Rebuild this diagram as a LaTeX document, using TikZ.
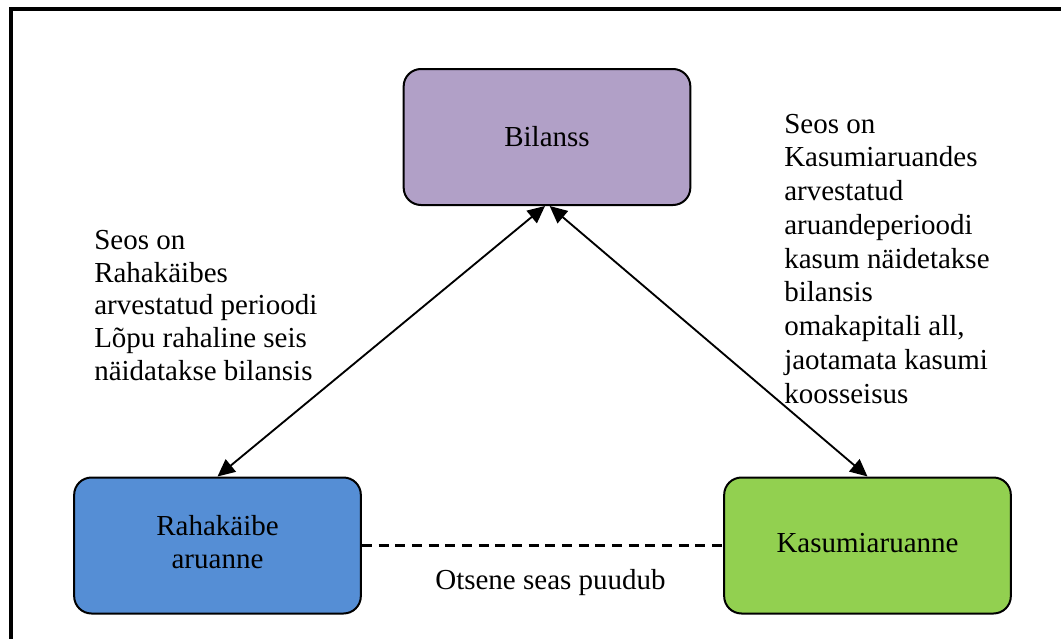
\documentclass[tikz,border=0pt]{standalone}
\usepackage{fontspec}
\setmainfont{Liberation Serif}
\usetikzlibrary{arrows.meta}
\definecolor{bilcol}{HTML}{B1A0C7}
\definecolor{rahcol}{HTML}{558ED5}
\definecolor{kascol}{HTML}{92D050}
\tikzset{
  box/.style={draw=black, line width=1.5pt, rounded corners=13pt, minimum width=215pt, minimum height=102pt, align=center, inner sep=0pt},
  txt/.style={font=\rmfamily\fontsize{21.75pt}{24.75pt}\selectfont},
  note/.style={align=left, inner sep=0pt, anchor=base west},
  link/.style={line width=1.4pt, {Triangle[length=13pt,width=12pt]}-{Triangle[length=13pt,width=12pt]}},
  nolink/.style={line width=1.6pt, dash pattern=on 7.5pt off 5pt},
  frame/.style={line width=2.4pt, draw=black}
}
\begin{document}
\begin{tikzpicture}[x=0.75pt, y=-0.75pt]
\path[use as bounding box, clip] (0,0) rectangle (1061,639);
\draw[frame] (11,9) rectangle (1300,800);
\node[box, fill=bilcol, txt] (bil) at (547,137) {Bilanss};
\node[box, fill=rahcol, txt] (rah) at (217.5,545.5) {\raisebox{-8pt}{\begin{tabular}{@{}c@{}}Rahakäibe\\aruanne\end{tabular}}};
\node[box, fill=kascol, txt] (kas) at (867.5,545.5) {\raisebox{4pt}{Kasumiaruanne}};
\draw[link] ([xshift=-1.5pt]bil.south) -- (rah.north);
\draw[link] ([xshift=2pt]bil.south) -- (kas.north);
\draw[nolink] (rah.east) -- (kas.west);
\node[txt, anchor=base, inner sep=0pt] (otse) at (550.5,589) {Otsene seas puudub};
\node[note, font=\rmfamily\fontsize{21.75pt}{24.4pt}\selectfont] (lnote) at (94,380) {Seos on\\Rahakäibes\\arvestatud perioodi\\Lõpu rahaline seis\\näidatakse bilansis};
\node[note, font=\rmfamily\fontsize{21.75pt}{25.3pt}\selectfont] (rnote) at (784,403) {Seos on\\Kasumiaruandes\\arvestatud\\aruandeperioodi\\kasum näidetakse\\bilansis\\omakapitali all,\\jaotamata kasumi\\koosseisus};
\end{tikzpicture}
\end{document}
